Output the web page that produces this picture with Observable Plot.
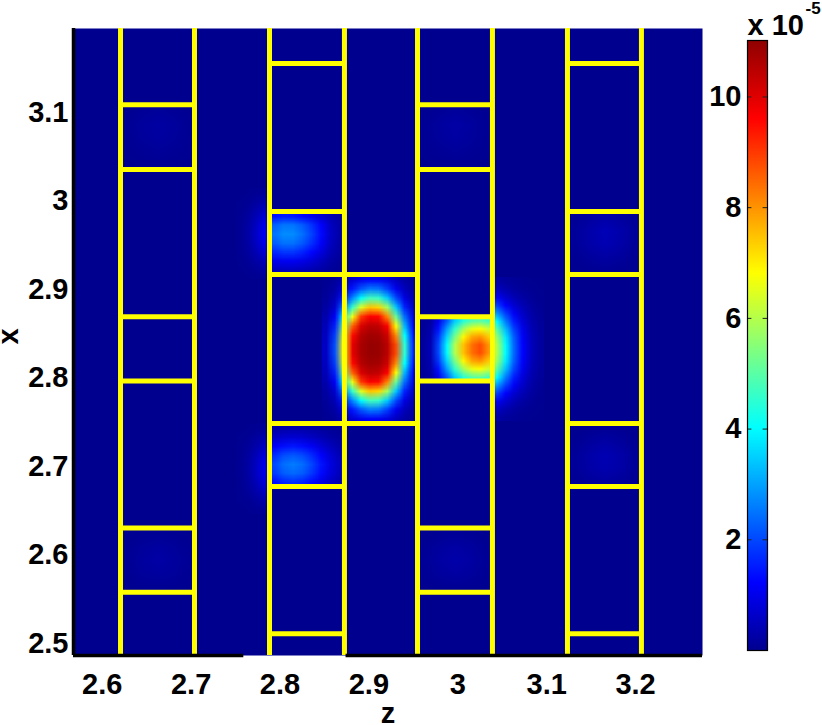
<!DOCTYPE html>
<html><head><meta charset="utf-8">
<script src="https://cdn.jsdelivr.net/npm/d3@7"></script>
<script src="https://cdn.jsdelivr.net/npm/@observablehq/plot@0.6"></script>
<style>
html,body{margin:0;padding:0;background:#fff;}
#wrap{position:relative;width:822px;height:725px;overflow:hidden;}
#wrap svg{position:absolute;top:0;}
</style></head><body><div id="wrap"></div>
<script>
// ---- axes ----
const xDomain = [2.5677, 3.2753];
const yDomain = [2.4862, 3.1946];
const xTicks = [2.6, 2.7, 2.8, 2.9, 3, 3.1, 3.2];
const yTicks = [2.5, 2.6, 2.7, 2.8, 2.9, 3, 3.1];
const bottomAxisSpans = [[2.5677, 2.7593], [2.8743, 3.2753]];
const colorDomain = [0, 11.02];
const colorTicks = [2, 4, 6, 8, 10];
const jetStops = [0, 1.224, 4.023, 6.822, 9.621, 11.02];
const jetColors = ["#00008f", "#0000ff", "#00ffff", "#ffff00", "#ff0000", "#8f0000"];

// ---- yellow layout lines (data units) ----
const pinLinesX = [2.6206, 2.7038, 2.7882, 2.8725, 2.9547, 3.0390, 3.1234, 3.2066];
const columnSpans = [[2.6206, 2.7038], [2.7882, 2.8725], [2.9547, 3.0390], [3.1234, 3.2066]];
const levelsOdd = [3.1084, 3.0353, 2.8690, 2.7963, 2.6302, 2.5578];
const levelsEven = [3.1550, 2.9878, 2.9166, 2.7482, 2.6770, 2.5109];
const bridgeSpan = [2.8725, 2.9547];
const bridgeLevels = [2.9166, 2.7482];

// ---- field samples: bounds (x1, x2, yTop, yBottom) and values (x 1e-5) ----
const backgroundBounds = [xDomain[0], xDomain[1], yDomain[1], yDomain[0]];
const backgroundField = [[0]];

const mainSpotBounds = [2.8470, 2.9547, 2.9166, 2.7482];
const mainSpot = [
  [0.04, 0.12, 0.39, 0.7, 0.99, 1.16, 1.1, 0.88, 0.5, 0.23, 0.1],
  [0.08, 0.24, 0.8, 1.44, 2.13, 2.56, 2.48, 1.86, 1.04, 0.48, 0.18],
  [0.12, 0.44, 1.5, 2.72, 4.0, 4.76, 4.62, 3.45, 2.03, 0.91, 0.33],
  [0.2, 0.7, 2.57, 4.6, 6.45, 7.48, 7.28, 5.77, 3.43, 1.57, 0.53],
  [0.32, 1.14, 3.88, 6.63, 9.03, 9.67, 9.55, 8.15, 5.2, 2.41, 0.84],
  [0.44, 1.57, 5.25, 8.58, 10.09, 10.47, 10.4, 9.67, 6.8, 3.2, 1.08],
  [0.52, 1.92, 6.3, 9.53, 10.55, 10.8, 10.75, 10.25, 8.09, 4.05, 1.41],
  [0.58, 2.1, 6.85, 9.93, 10.7, 10.92, 10.89, 10.48, 8.8, 4.5, 1.59],
  [0.58, 2.1, 6.85, 9.93, 10.7, 10.92, 10.89, 10.48, 8.8, 4.5, 1.59],
  [0.52, 1.92, 6.3, 9.53, 10.55, 10.8, 10.75, 10.25, 8.09, 4.05, 1.41],
  [0.44, 1.57, 5.25, 8.58, 10.09, 10.47, 10.4, 9.67, 6.8, 3.2, 1.08],
  [0.32, 1.14, 3.88, 6.63, 9.03, 9.67, 9.55, 8.15, 5.2, 2.41, 0.84],
  [0.2, 0.7, 2.57, 4.6, 6.45, 7.48, 7.28, 5.77, 3.43, 1.57, 0.53],
  [0.12, 0.44, 1.5, 2.72, 4.0, 4.76, 4.62, 3.45, 2.03, 0.91, 0.33],
  [0.08, 0.24, 0.8, 1.44, 2.13, 2.56, 2.48, 1.86, 1.04, 0.48, 0.18],
  [0.04, 0.12, 0.39, 0.7, 0.99, 1.16, 1.1, 0.88, 0.5, 0.23, 0.1]
];

const secondSpotBounds = [2.9547, 3.0390, 2.8690, 2.7963];
const secondSpot = [
  [0.05, 0.2, 1.0, 2.2, 3.5, 4.4, 4.9, 5.0, 4.7],
  [0.07, 0.28, 1.4, 3.0, 4.6, 5.8, 6.6, 6.8, 6.3],
  [0.08, 0.35, 1.8, 3.6, 5.4, 6.9, 7.8, 8.0, 7.4],
  [0.1, 0.4, 2.0, 4.0, 6.0, 7.5, 8.4, 8.8, 8.0],
  [0.1, 0.4, 2.0, 4.0, 6.0, 7.5, 8.4, 8.8, 8.0],
  [0.08, 0.35, 1.8, 3.6, 5.4, 6.9, 7.8, 8.0, 7.4],
  [0.07, 0.28, 1.4, 3.0, 4.6, 5.8, 6.6, 6.8, 6.3],
  [0.05, 0.2, 1.0, 2.2, 3.5, 4.4, 4.9, 5.0, 4.7]
];

const secondSpotGlowBounds = [3.0390, 3.0971, 2.9138, 2.7511];
const secondSpotGlow = [
  [0.25, 0.15, 0.1, 0.05, 0.02, 0.01],
  [0.55, 0.35, 0.2, 0.1, 0.05, 0.02],
  [1.1, 0.7, 0.4, 0.22, 0.1, 0.03],
  [1.9, 1.2, 0.7, 0.4, 0.17, 0.06],
  [2.9, 1.9, 1.1, 0.6, 0.26, 0.09],
  [4.0, 2.6, 1.5, 0.8, 0.35, 0.12],
  [5.0, 3.3, 1.9, 1.0, 0.42, 0.15],
  [5.7, 3.8, 2.2, 1.15, 0.48, 0.17],
  [6.0, 4.0, 2.3, 1.2, 0.5, 0.18],
  [6.0, 4.0, 2.3, 1.2, 0.5, 0.18],
  [5.7, 3.8, 2.2, 1.15, 0.48, 0.17],
  [5.0, 3.3, 1.9, 1.0, 0.42, 0.15],
  [4.0, 2.6, 1.5, 0.8, 0.35, 0.12],
  [2.9, 1.9, 1.1, 0.6, 0.26, 0.09],
  [1.9, 1.2, 0.7, 0.4, 0.17, 0.06],
  [1.1, 0.7, 0.4, 0.22, 0.1, 0.03],
  [0.55, 0.35, 0.2, 0.1, 0.05, 0.02],
  [0.25, 0.15, 0.1, 0.05, 0.02, 0.01]
];

const upperSpotBounds = [2.7882, 2.8725, 2.9878, 2.9166];
const upperSpot = [
  [1.4, 1.55, 1.5, 1.3, 1.0, 0.7, 0.4, 0.18],
  [2.28, 2.53, 2.51, 2.22, 1.76, 1.2, 0.55, 0.25],
  [2.5, 2.77, 2.75, 2.44, 1.93, 1.3, 0.6, 0.26],
  [2.23, 2.48, 2.46, 2.18, 1.72, 1.15, 0.54, 0.23],
  [1.63, 1.81, 1.79, 1.59, 1.26, 0.85, 0.4, 0.17],
  [0.97, 1.08, 1.07, 0.95, 0.75, 0.5, 0.24, 0.1],
  [0.47, 0.52, 0.52, 0.46, 0.36, 0.24, 0.12, 0.05]
];

const upperGlowBounds = [2.7511, 2.7882, 3.0140, 2.9119];
const upperGlow = [
  [0, 0.02, 0.06, 0.1],
  [0.02, 0.07, 0.18, 0.29],
  [0.03, 0.13, 0.33, 0.53],
  [0.05, 0.2, 0.5, 0.81],
  [0.06, 0.25, 0.65, 1.04],
  [0.07, 0.27, 0.7, 1.13],
  [0.06, 0.25, 0.65, 1.04],
  [0.05, 0.2, 0.5, 0.81],
  [0.03, 0.13, 0.33, 0.53],
  [0.02, 0.07, 0.18, 0.29],
  [0, 0.02, 0.06, 0.1]
];

const lowerSpotBounds = [2.7882, 2.8725, 2.7482, 2.6770];
const lowerSpot = [
  [0.23, 0.28, 0.3, 0.28, 0.23, 0.16, 0.1, 0.06],
  [0.58, 0.7, 0.74, 0.69, 0.56, 0.4, 0.25, 0.14],
  [1.13, 1.37, 1.45, 1.35, 1.1, 0.79, 0.5, 0.28],
  [1.71, 2.07, 2.19, 2.04, 1.67, 1.2, 0.75, 0.42],
  [2.02, 2.44, 2.59, 2.41, 1.97, 1.42, 0.89, 0.5],
  [1.86, 2.25, 2.38, 2.22, 1.81, 1.3, 0.82, 0.46],
  [1.33, 1.61, 1.71, 1.59, 1.3, 0.93, 0.59, 0.33]
];

const lowerGlowBounds = [2.7511, 2.7882, 2.7484, 2.6464];
const lowerGlow = [
  [0, 0.02, 0.05, 0.09],
  [0.02, 0.06, 0.16, 0.27],
  [0.03, 0.12, 0.3, 0.49],
  [0.04, 0.18, 0.46, 0.74],
  [0.05, 0.23, 0.6, 0.95],
  [0.06, 0.25, 0.64, 1.03],
  [0.05, 0.23, 0.6, 0.95],
  [0.04, 0.18, 0.46, 0.74],
  [0.03, 0.12, 0.3, 0.49],
  [0.02, 0.06, 0.16, 0.27],
  [0, 0.02, 0.05, 0.09]
];

const faintCol4UpperBounds = [3.1234, 3.2066, 2.9878, 2.9166];
const faintCol4Upper = [
  [0.08, 0.2, 0.28, 0.2, 0.08],
  [0.12, 0.3, 0.45, 0.32, 0.12],
  [0.1, 0.28, 0.4, 0.3, 0.1],
  [0.06, 0.16, 0.24, 0.17, 0.06],
  [0.02, 0.06, 0.1, 0.06, 0.02]
];
const faintCol4LowerBounds = [3.1234, 3.2066, 2.7482, 2.6770];
const faintCol4Lower = [
  [0.02, 0.06, 0.1, 0.06, 0.02],
  [0.06, 0.18, 0.26, 0.18, 0.06],
  [0.1, 0.28, 0.4, 0.3, 0.1],
  [0.1, 0.26, 0.36, 0.27, 0.1],
  [0.05, 0.14, 0.2, 0.14, 0.05]
];
const faintCol1UpperBounds = [2.6206, 2.7038, 3.1084, 3.0353];
const faintCol1Upper = [
  [0.04, 0.1, 0.14, 0.1, 0.04],
  [0.07, 0.16, 0.22, 0.16, 0.07],
  [0.06, 0.14, 0.2, 0.14, 0.06],
  [0.04, 0.08, 0.12, 0.08, 0.04],
  [0.01, 0.03, 0.05, 0.03, 0.01]
];
const faintCol1LowerBounds = [2.6206, 2.7038, 2.6302, 2.5578];
const faintCol1Lower = [
  [0.02, 0.06, 0.08, 0.06, 0.02],
  [0.06, 0.14, 0.2, 0.14, 0.06],
  [0.08, 0.18, 0.25, 0.18, 0.08],
  [0.06, 0.14, 0.18, 0.14, 0.06],
  [0.02, 0.05, 0.07, 0.05, 0.02]
];
const faintCol3UpperBounds = [2.9547, 3.0390, 3.1084, 3.0353];
const faintCol3Upper = [
  [0.04, 0.1, 0.15, 0.1, 0.04],
  [0.07, 0.17, 0.25, 0.17, 0.07],
  [0.06, 0.15, 0.22, 0.15, 0.06],
  [0.04, 0.09, 0.13, 0.09, 0.04],
  [0.01, 0.03, 0.05, 0.03, 0.01]
];
const faintCol3LowerBounds = [2.9547, 3.0390, 2.6302, 2.5578];
const faintCol3Lower = [
  [0.02, 0.07, 0.1, 0.07, 0.02],
  [0.07, 0.17, 0.24, 0.17, 0.07],
  [0.09, 0.22, 0.3, 0.22, 0.09],
  [0.07, 0.16, 0.22, 0.16, 0.07],
  [0.02, 0.06, 0.08, 0.06, 0.02]
];

// ---- build ----
const segments = columnSpans
  .flatMap((s, i) => (i % 2 ? levelsEven : levelsOdd).map(y => ({x1: s[0], x2: s[1], y})))
  .concat(bridgeLevels.map(y => ({x1: bridgeSpan[0], x2: bridgeSpan[1], y})));
const bottomAxis = bottomAxisSpans.map(([a, b]) => ({x1: a, x2: b, y: yDomain[0]}));

function patch(values, b) {
  return Plot.raster(values.flat(), {
    width: values[0].length, height: values.length,
    x1: b[0], x2: b[1], y1: b[2], y2: b[3],
    fill: Plot.identity, imageRendering: "auto"
  });
}

const FS = 29;
const colorSpec = {type: "linear", domain: jetStops, range: jetColors, interpolate: "rgb", clamp: true};
const fontStyle = {fontFamily: "'Liberation Sans', Arial, Helvetica, sans-serif", fontWeight: "bold", fontSize: FS + "px", color: "black", background: "transparent", overflow: "visible"};
const fmt = d => `${d}`;

const main = Plot.plot({
  width: 822, height: 725,
  marginLeft: 73, marginRight: 120, marginTop: 28, marginBottom: 70,
  x: {domain: xDomain},
  y: {domain: yDomain},
  color: colorSpec,
  style: fontStyle,
  marks: [
    patch(backgroundField, backgroundBounds),
    patch(faintCol1Upper, faintCol1UpperBounds),
    patch(faintCol1Lower, faintCol1LowerBounds),
    patch(faintCol3Upper, faintCol3UpperBounds),
    patch(faintCol3Lower, faintCol3LowerBounds),
    patch(faintCol4Upper, faintCol4UpperBounds),
    patch(faintCol4Lower, faintCol4LowerBounds),
    patch(upperGlow, upperGlowBounds),
    patch(lowerGlow, lowerGlowBounds),
    patch(upperSpot, upperSpotBounds),
    patch(lowerSpot, lowerSpotBounds),
    patch(mainSpot, mainSpotBounds),
    patch(secondSpot, secondSpotBounds),
    patch(secondSpotGlow, secondSpotGlowBounds),
    Plot.ruleX(pinLinesX, {stroke: "#ffff00", strokeWidth: 5}),
    Plot.ruleY(segments, {y: "y", x1: "x1", x2: "x2", stroke: "#ffff00", strokeWidth: 5}),
    Plot.ruleX([xDomain[0]], {stroke: "black", strokeWidth: 3.5}),
    Plot.ruleY(bottomAxis, {y: "y", x1: "x1", x2: "x2", stroke: "black", strokeWidth: 3.5}),
    Plot.axisX({ticks: xTicks, tickSize: 0, tickPadding: 18, tickFormat: fmt, label: null, fontSize: FS}),
    Plot.axisY({ticks: yTicks, tickSize: 0, tickPadding: 5, tickFormat: fmt, label: null, fontSize: FS}),
    Plot.text(["z"], {text: d => d, frameAnchor: "bottom", lineAnchor: "middle", dy: 58, fontSize: FS}),
    Plot.text(["x"], {text: d => d, frameAnchor: "left", lineAnchor: "middle", rotate: -90, dx: -65, dy: 2.5, fontSize: FS})
  ]
});

const bar = Plot.plot({
  width: 132, height: 725,
  marginLeft: 57, marginRight: 55, marginTop: 40, marginBottom: 75,
  x: {domain: [0, 1], axis: null},
  y: {domain: colorDomain},
  color: colorSpec,
  style: fontStyle,
  marks: [
    Plot.raster({fill: (x, y) => y, x1: 0, x2: 1, y1: colorDomain[0], y2: colorDomain[1]}),
    Plot.ruleY(colorTicks, {x1: 0, x2: 0.22, stroke: "#222", strokeWidth: 1}),
    Plot.ruleY(colorTicks, {x1: 0.78, x2: 1, stroke: "#222", strokeWidth: 1}),
    Plot.frame({stroke: "black", strokeWidth: 1.2}),
    Plot.axisY({ticks: colorTicks, anchor: "left", tickSize: 0, tickPadding: 6, tickFormat: fmt, label: null, fontSize: FS}),
    Plot.text(["x 10"], {text: d => d, frameAnchor: "top-left", lineAnchor: "middle", textAnchor: "start", dy: -14.3, fontSize: FS}),
    Plot.text(["-5"], {text: d => d, frameAnchor: "top-left", lineAnchor: "middle", textAnchor: "start", dx: 58, dy: -32.4, fontSize: 17})
  ]
});

const wrap = document.getElementById("wrap");
main.style.left = "0px";
bar.style.left = "690px";
wrap.appendChild(main);
wrap.appendChild(bar);
</script>
</body></html>
